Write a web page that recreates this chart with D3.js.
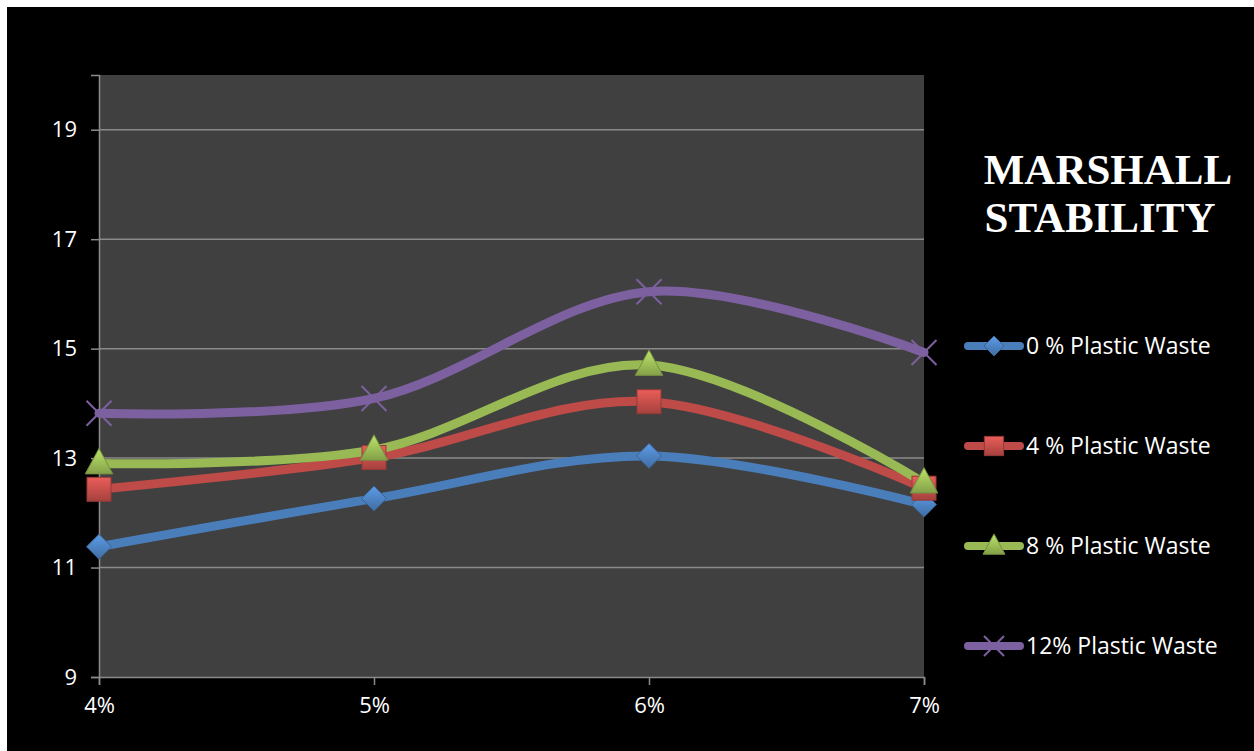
<!DOCTYPE html>
<html>
<head>
<meta charset="utf-8">
<script src="https://cdn.jsdelivr.net/npm/d3@7"></script>
<style>
  html, body { margin: 0; padding: 0; background: #fff; }
  svg { display: block; }
</style>
</head>
<body>
<div id="chart"></div>
<script>
const categories = ['4%', '5%', '6%', '7%'];
const seriesNames = ['0 % Plastic Waste', '4 % Plastic Waste', '8 % Plastic Waste', '12% Plastic Waste'];
const plastic0 = [11.38, 12.26, 13.04, 12.15];
const plastic4 = [12.43, 13.01, 14.03, 12.45];
const plastic8 = [12.90, 13.15, 14.70, 12.55];
const plastic12 = [13.82, 14.09, 16.04, 14.93];
const yTicks = [9, 11, 13, 15, 17, 19];

const colors = ['#4a7ebb', '#be4b48', '#98b954', '#7d60a0'];
const markers = ['diamond', 'square', 'triangle', 'cross'];

const series = seriesNames.map((name, i) => ({
    name: name,
    values: [plastic0, plastic4, plastic8, plastic12][i],
    color: colors[i],
    marker: markers[i]
}));

const W = 1254, H = 751;
const plot = { left: 99, right: 924, top: 75, bottom: 677 };

const svg = d3.select('#chart').append('svg')
    .attr('width', W)
    .attr('height', H);

// black background with thin white border on top/left
svg.append('rect').attr('x', 7).attr('y', 7).attr('width', W - 7).attr('height', H - 7).attr('fill', '#000');

const defs = svg.append('defs');
series.forEach((s, i) => {
    const g = defs.append('linearGradient')
        .attr('id', 'grad' + i)
        .attr('x1', 0).attr('y1', 0).attr('x2', 0).attr('y2', 1);
    g.append('stop').attr('offset', '0%').attr('stop-color', d3.color(s.color).brighter(0.6));
    g.append('stop').attr('offset', '100%').attr('stop-color', d3.color(s.color).darker(0.4));
});

const x = d3.scalePoint().domain(categories).range([plot.left, plot.right]);
const y = d3.scaleLinear().domain([9, 20]).range([plot.bottom, plot.top]);

svg.append('rect')
    .attr('x', plot.left).attr('y', plot.top)
    .attr('width', plot.right - plot.left).attr('height', plot.bottom - plot.top)
    .attr('fill', '#404040');

// gridlines
svg.append('g').selectAll('line')
    .data(yTicks.slice(1))
    .enter().append('line')
    .attr('x1', plot.left).attr('x2', plot.right)
    .attr('y1', d => y(d)).attr('y2', d => y(d))
    .attr('stroke', '#8a8a8a').attr('stroke-width', 1.5);

// y axis
const yAxis = svg.append('g')
    .attr('transform', `translate(${plot.left},0)`)
    .call(d3.axisLeft(y).tickValues(yTicks).tickSize(8).tickPadding(14));
yAxis.select('.domain').attr('stroke', '#8a8a8a').attr('stroke-width', 1.5);
yAxis.selectAll('.tick line').attr('stroke', '#8a8a8a').attr('stroke-width', 1.5);
yAxis.selectAll('text')
    .attr('fill', '#fff')
    .style('font-family', '"Open Sans", sans-serif')
    .style('font-size', '22px');

// x axis
const xAxis = svg.append('g')
    .attr('transform', `translate(0,${plot.bottom})`)
    .call(d3.axisBottom(x).tickSize(8).tickPadding(12));
xAxis.select('.domain').attr('stroke', '#8a8a8a').attr('stroke-width', 1.5);
xAxis.selectAll('.tick line').attr('stroke', '#8a8a8a').attr('stroke-width', 1.5);
xAxis.selectAll('text')
    .attr('fill', '#fff')
    .style('font-family', '"Open Sans", sans-serif')
    .style('font-size', '22px');

const line = d3.line()
    .x((d, i) => x(categories[i]))
    .y(d => y(d))
    .curve(d3.curveCardinal.tension(0));

function drawMarker(sel, type, i, cx, cy, size) {
    const fill = `url(#grad${i})`;
    const stroke = d3.color(colors[i]).darker(0.7);
    if (type === 'diamond') {
        const r = size * 0.5;
        sel.append('path')
            .attr('d', `M${cx},${cy - r}L${cx + r},${cy}L${cx},${cy + r}L${cx - r},${cy}Z`)
            .attr('fill', fill).attr('stroke', stroke).attr('stroke-width', 1);
    } else if (type === 'square') {
        const r = size * 0.48;
        sel.append('rect')
            .attr('x', cx - r).attr('y', cy - r).attr('width', 2 * r).attr('height', 2 * r)
            .attr('fill', fill).attr('stroke', stroke).attr('stroke-width', 1);
    } else if (type === 'triangle') {
        const r = size * 0.55;
        sel.append('path')
            .attr('d', `M${cx},${cy - r * 1.1}L${cx + r},${cy + r * 0.75}L${cx - r},${cy + r * 0.75}Z`)
            .attr('fill', fill).attr('stroke', stroke).attr('stroke-width', 1);
    } else {
        const r = size * 0.5;
        sel.append('path')
            .attr('d', `M${cx - r},${cy - r}L${cx + r},${cy + r}M${cx - r},${cy + r}L${cx + r},${cy - r}`)
            .attr('stroke', colors[i]).attr('stroke-width', 2).attr('fill', 'none');
    }
}

series.forEach((s, i) => {
    svg.append('path')
        .datum(s.values)
        .attr('d', line)
        .attr('fill', 'none')
        .attr('stroke', s.color)
        .attr('stroke-width', 9)
        .attr('stroke-linecap', 'round');
});

series.forEach((s, i) => {
    const g = svg.append('g');
    s.values.forEach((v, j) => drawMarker(g, s.marker, i, x(categories[j]), y(v), 25));
});

// title
const title = svg.append('text')
    .attr('x', 1108).attr('y', 184)
    .attr('text-anchor', 'middle')
    .attr('fill', '#fff')
    .style('font-family', '"Liberation Serif", "Times New Roman", serif')
    .style('font-weight', 'bold')
    .style('font-size', '43px');
title.append('tspan').attr('x', 1108).attr('dy', 0).text('MARSHALL');
title.append('tspan').attr('x', 1100).attr('dy', 48).text('STABILITY');

// legend
const legend = svg.append('g');
series.forEach((s, i) => {
    const ly = 346 + i * 100;
    legend.append('line')
        .attr('x1', 968).attr('x2', 1020)
        .attr('y1', ly).attr('y2', ly)
        .attr('stroke', s.color).attr('stroke-width', 8).attr('stroke-linecap', 'round');
    drawMarker(legend, s.marker, i, 994, ly, 20);
    legend.append('text')
        .attr('x', 1026).attr('y', ly)
        .attr('dy', '0.36em')
        .attr('fill', '#fff')
        .style('font-family', '"Open Sans", sans-serif')
        .style('font-size', '23px')
        .text(s.name);
});
</script>
</body>
</html>
